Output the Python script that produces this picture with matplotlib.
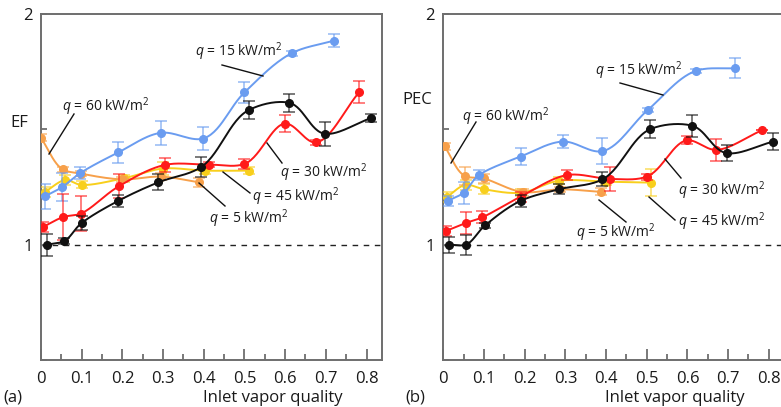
import numpy as np
import matplotlib
matplotlib.use("Agg")
import matplotlib.pyplot as plt
from matplotlib.ticker import MultipleLocator, FixedLocator

plt.rcParams['font.family'] = ['Open Sans', 'DejaVu Sans']
plt.rcParams['mathtext.fontset'] = 'custom'
plt.rcParams['mathtext.it'] = 'Open Sans:italic'
plt.rcParams['mathtext.rm'] = 'Open Sans'

# ---------------- data: (a) EF ----------------
ef_blue_x = [0.01, 0.052, 0.096, 0.19, 0.295, 0.398, 0.5, 0.616, 0.72]
ef_blue_y = [1.21, 1.25, 1.31, 1.40, 1.485, 1.46, 1.66, 1.83, 1.885]
ef_blue_e = [0.054, 0.06, 0.026, 0.044, 0.052, 0.048, 0.044, 0.01, 0.03]

ef_black_x = [0.015, 0.057, 0.1, 0.19, 0.288, 0.393, 0.51, 0.61, 0.697, 0.81]
ef_black_y = [1.0, 1.016, 1.094, 1.19, 1.27, 1.336, 1.583, 1.615, 1.481, 1.548]
ef_black_e = [0.048, 0.013, 0.03, 0.026, 0.035, 0.044, 0.04, 0.04, 0.052, 0.017]

ef_red_x = [0.005, 0.055, 0.098, 0.192, 0.305, 0.412, 0.5, 0.6, 0.675, 0.782]
ef_red_y = [1.077, 1.12, 1.135, 1.254, 1.346, 1.347, 1.35, 1.525, 1.443, 1.661]
ef_red_e = [0.022, 0.10, 0.074, 0.052, 0.03, 0.01, 0.022, 0.035, 0.01, 0.048]

ef_yellow_x = [0.01, 0.06, 0.1, 0.204, 0.3, 0.403, 0.51]
ef_yellow_y = [1.229, 1.28, 1.259, 1.288, 1.33, 1.321, 1.321]
ef_yellow_e = [0.022, 0.022, 0.015, 0.015, 0.03, 0.015, 0.015]

ef_orange_x = [0.0, 0.053, 0.098, 0.199, 0.295, 0.389]
ef_orange_y = [1.463, 1.327, 1.308, 1.283, 1.295, 1.27]
ef_orange_e = [0.015, 0.01, 0.01, 0.01, 0.015, 0.02]

# ---------------- data: (b) PEC ----------------
pec_blue_x = [0.011, 0.05, 0.088, 0.19, 0.294, 0.39, 0.502, 0.62, 0.718]
pec_blue_y = [1.19, 1.225, 1.302, 1.382, 1.447, 1.405, 1.583, 1.753, 1.765]
pec_blue_e = [0.022, 0.048, 0.022, 0.035, 0.03, 0.057, 0.01, 0.01, 0.044]

pec_black_x = [0.014, 0.055, 0.103, 0.19, 0.284, 0.391, 0.509, 0.611, 0.696, 0.811]
pec_black_y = [1.0, 1.0, 1.084, 1.19, 1.24, 1.283, 1.501, 1.516, 1.397, 1.447]
pec_black_e = [0.035, 0.044, 0.01, 0.026, 0.022, 0.03, 0.04, 0.048, 0.035, 0.035]

pec_red_x = [0.006, 0.055, 0.095, 0.19, 0.305, 0.41, 0.5, 0.598, 0.671, 0.782]
pec_red_y = [1.059, 1.094, 1.118, 1.208, 1.302, 1.285, 1.295, 1.452, 1.411, 1.495]
pec_red_e = [0.022, 0.048, 0.026, 0.022, 0.022, 0.052, 0.013, 0.017, 0.048, 0.0]

pec_yellow_x = [0.008, 0.055, 0.101, 0.19, 0.284, 0.4, 0.51]
pec_yellow_y = [1.205, 1.259, 1.24, 1.225, 1.277, 1.273, 1.269]
pec_yellow_e = [0.022, 0.022, 0.022, 0.015, 0.015, 0.015, 0.06]

pec_orange_x = [0.003, 0.053, 0.099, 0.195, 0.288, 0.387]
pec_orange_y = [1.427, 1.298, 1.287, 1.228, 1.24, 1.229]
pec_orange_e = [0.015, 0.04, 0.02, 0.015, 0.01, 0.015]

x_ticks = [0, 0.1, 0.2, 0.3, 0.4, 0.5, 0.6, 0.7, 0.8]
x_tick_labels = ['0', '0.1', '0.2', '0.3', '0.4', '0.5', '0.6', '0.7', '0.8']

C_BLUE = '#6a9cf0'
C_BLACK = '#111111'
C_RED = '#ff1a1a'
C_YELLOW = '#f8cf1c'
C_ORANGE = '#f7a04a'
SPINE = '#6e6e6e'

XMAX = 0.838
YMIN, YMAX = 0.5, 2.0
FS = 12
FS_ANN = 10


def smooth(x, y, sx=1.0 / XMAX, sy=0.85 / 1.5 * 1.9, n=30):
    """Centripetal Catmull-Rom spline through the points (for drawing)."""
    P = np.column_stack([np.asarray(x) * sx, np.asarray(y) * sy])
    P = np.vstack([2 * P[0] - P[1], P, 2 * P[-1] - P[-2]])
    out = []
    for i in range(1, len(P) - 2):
        p0, p1, p2, p3 = P[i - 1], P[i], P[i + 1], P[i + 2]
        def tj(ti, a, b):
            return ti + max(np.hypot(*(b - a)), 1e-9) ** 0.5
        t0 = 0.0
        t1 = tj(t0, p0, p1)
        t2 = tj(t1, p1, p2)
        t3 = tj(t2, p2, p3)
        t = np.linspace(t1, t2, n)[:, None]
        A1 = (t1 - t) / (t1 - t0) * p0 + (t - t0) / (t1 - t0) * p1
        A2 = (t2 - t) / (t2 - t1) * p1 + (t - t1) / (t2 - t1) * p2
        A3 = (t3 - t) / (t3 - t2) * p2 + (t - t2) / (t3 - t2) * p3
        B1 = (t2 - t) / (t2 - t0) * A1 + (t - t0) / (t2 - t0) * A2
        B2 = (t3 - t) / (t3 - t1) * A2 + (t - t1) / (t3 - t1) * A3
        C = (t2 - t) / (t2 - t1) * B1 + (t - t1) / (t2 - t1) * B2
        out.append(C if i == 1 else C[1:])
    C = np.vstack(out)
    return C[:, 0] / sx, C[:, 1] / sy


def series(ax, x, y, e, color, z):
    sxs, sys_ = smooth(x, y)
    ax.plot(sxs, sys_, color=color, lw=1.4, zorder=z, solid_capstyle='round')
    ax.errorbar(x, y, yerr=e, fmt='none', ecolor=color, alpha=0.6,
                elinewidth=1.3, capsize=4, capthick=1.3, zorder=z)
    ax.plot(x, y, 'o', color=color, ms=5.5, mec=color, zorder=z + 0.5)


fig = plt.figure(figsize=(7.81, 4.07), dpi=100)
W, H = 781.0, 407.0
ax_w = (382 - 41) / W
ax_h = (360 - 14) / H
ax1 = fig.add_axes([41 / W, 1 - 360 / H, ax_w, ax_h])
ax2 = fig.add_axes([443.3 / W, 1 - 360 / H, ax_w, ax_h])

panels = [
    (ax1, [(ef_yellow_x, ef_yellow_y, ef_yellow_e, C_YELLOW),
           (ef_orange_x, ef_orange_y, ef_orange_e, C_ORANGE),
           (ef_blue_x, ef_blue_y, ef_blue_e, C_BLUE),
           (ef_red_x, ef_red_y, ef_red_e, C_RED),
           (ef_black_x, ef_black_y, ef_black_e, C_BLACK)]),
    (ax2, [(pec_yellow_x, pec_yellow_y, pec_yellow_e, C_YELLOW),
           (pec_orange_x, pec_orange_y, pec_orange_e, C_ORANGE),
           (pec_blue_x, pec_blue_y, pec_blue_e, C_BLUE),
           (pec_red_x, pec_red_y, pec_red_e, C_RED),
           (pec_black_x, pec_black_y, pec_black_e, C_BLACK)]),
]

for ax, ser in panels:
    ax.set_xlim(0, XMAX)
    ax.set_ylim(YMIN, YMAX)
    ax.axhline(1.0, color='#222222', lw=1.0, ls=(0, (4, 4)), zorder=1)
    for k, (x, y, e, c) in enumerate(ser):
        series(ax, x, y, e, c, 3 + k)
    for s in ax.spines.values():
        s.set_color(SPINE)
        s.set_linewidth(1.4)
    ax.xaxis.set_major_locator(FixedLocator(x_ticks))
    ax.set_xticklabels(x_tick_labels)
    ax.xaxis.set_minor_locator(MultipleLocator(0.05))
    ax.set_yticks([0.5, 1.0, 1.5, 2.0])
    ax.set_yticklabels(['', '1', '', '2'])
    ax.tick_params(axis='x', which='major', direction='in', length=8,
                   width=1.3, color=SPINE, labelsize=FS, pad=8,
                   labelcolor='#1a1a1a')
    ax.tick_params(axis='x', which='minor', direction='in', length=4,
                   width=1.3, color=SPINE)
    ax.tick_params(axis='y', which='major', direction='in', length=4,
                   width=1.3, color=SPINE, labelsize=FS, pad=6,
                   labelcolor='#1a1a1a')

# axis labels
fig.text(10 / W, 1 - 123 / H, 'EF', fontsize=FS, va='center', ha='left', color='#1a1a1a')
fig.text(402 / W, 1 - 100 / H, 'PEC', fontsize=FS, va='center', ha='left', color='#1a1a1a')
fig.text(3 / W, 1 - 398 / H, '(a)', fontsize=FS, va='center', ha='left', color='#1a1a1a')
fig.text(405 / W, 1 - 398 / H, '(b)', fontsize=FS, va='center', ha='left', color='#1a1a1a')
fig.text(273 / W, 1 - 398 / H, 'Inlet vapor quality', fontsize=FS, va='center', ha='center', color='#1a1a1a')
fig.text(675 / W, 1 - 398 / H, 'Inlet vapor quality', fontsize=FS, va='center', ha='center', color='#1a1a1a')


def px2data(ax, px, py):
    disp = (px, H - py)
    return ax.transData.inverted().transform(disp)


def label(ax, text, tx, ty, l0, l1):
    # tx, ty, l0, l1 in reference pixel coords
    ax.text(*px2data(ax, tx, ty), text, fontsize=FS_ANN, ha='left', va='center',
            color='#1a1a1a', zorder=20)
    a = px2data(ax, *l0)
    b = px2data(ax, *l1)
    ax.plot([a[0], b[0]], [a[1], b[1]], color='#111111', lw=1.0, zorder=20)


fig.canvas.draw()

label(ax1, '$q$ = 15 kW/m$^{2}$', 195, 52, (222, 65), (263, 76))
label(ax1, '$q$ = 60 kW/m$^{2}$', 62, 107, (74, 114), (49, 154))
label(ax1, '$q$ = 30 kW/m$^{2}$', 280, 173, (267, 143), (282, 163))
label(ax1, '$q$ = 45 kW/m$^{2}$', 252, 197, (223, 172), (250, 193))
label(ax1, '$q$ = 5 kW/m$^{2}$', 209, 219, (199, 183), (225, 206))

label(ax2, '$q$ = 15 kW/m$^{2}$', 595, 71, (620, 83), (663, 95))
label(ax2, '$q$ = 60 kW/m$^{2}$', 462, 117, (476, 122), (451, 163))
label(ax2, '$q$ = 30 kW/m$^{2}$', 678, 191, (665, 159), (681, 178))
label(ax2, '$q$ = 45 kW/m$^{2}$', 678, 222, (649, 197), (675, 220))
label(ax2, '$q$ = 5 kW/m$^{2}$', 576, 233, (599, 200), (626, 222))

fig.savefig('out.png', dpi=100)
